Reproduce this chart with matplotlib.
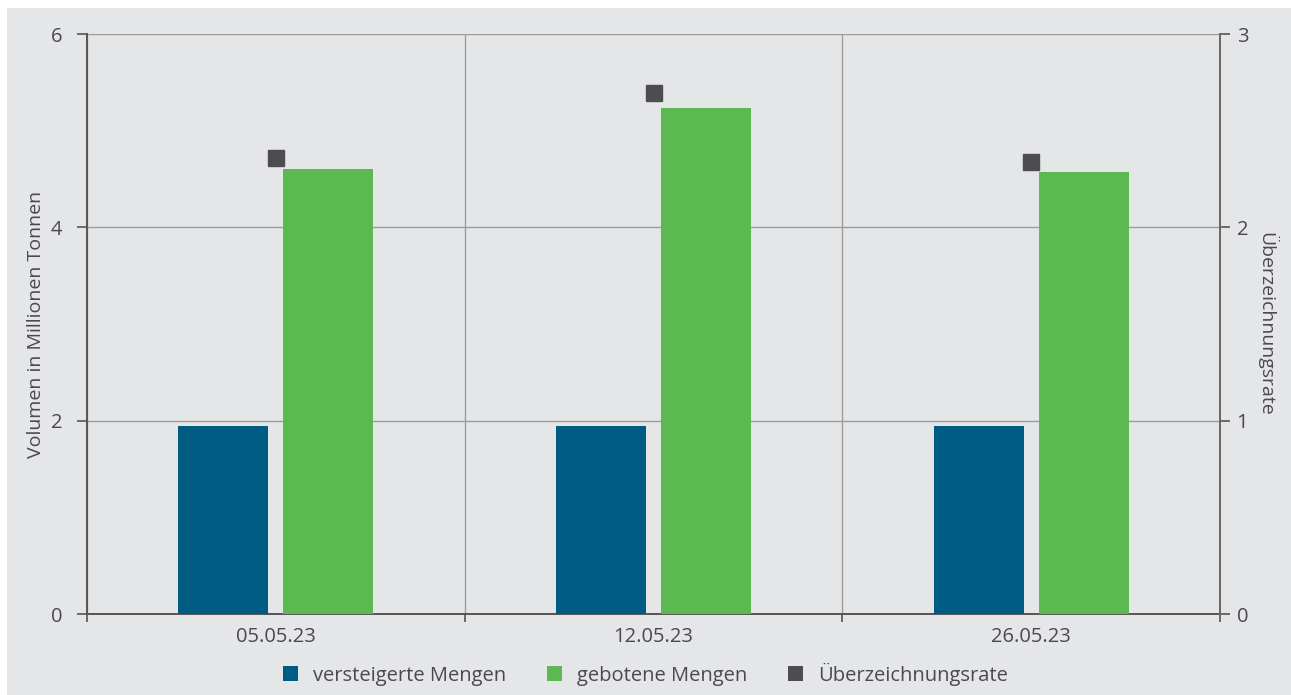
import matplotlib
matplotlib.use("Agg")
import matplotlib.pyplot as plt
from matplotlib.patches import Rectangle
from matplotlib.patches import Patch
import numpy as np

categories = ["05.05.23", "12.05.23", "26.05.23"]
versteigerte = [1.95, 1.95, 1.95]
gebotene = [4.60, 5.23, 4.57]
rate = [2.36, 2.695, 2.34]

left_ticks = [0, 2, 4, 6]
right_ticks = [0, 1, 2, 3]

BG = "#e5e6e8"
BLUE = "#005b82"
GREEN = "#5ab94f"
DARK = "#4d4d4f"
TXT = "#4a4a4c"

plt.rcParams['font.family'] = ['Open Sans', 'DejaVu Sans']

fig = plt.figure(figsize=(12.91, 6.95), dpi=100)
fig.patch.set_facecolor("white")
fig.patches.append(Rectangle((7/1291, 0), 1 - 7/1291, 1 - 8/695, transform=fig.transFigure,
                             facecolor=BG, edgecolor="none", zorder=-10))

ax = fig.add_axes([87/1291, 81/695, (1220-87)/1291, (614-34)/695])
ax.set_facecolor(BG)
ax.patch.set_alpha(0)

x = np.arange(len(categories))
w = 0.238
off = 0.139
ax.bar(x - off, versteigerte, width=w, color=BLUE, zorder=3)
ax.bar(x + off, gebotene, width=w, color=GREEN, zorder=3)

ax.set_xlim(-0.5, 2.5)
ax.set_ylim(0, 6)
ax.set_yticks(left_ticks)
ax.set_yticklabels([str(t) for t in left_ticks])
ax.set_xticks([-0.5, 0.5, 1.5, 2.5])
ax.set_xticklabels([])
ax.set_xticks(x, minor=True)
ax.set_xticklabels(categories, minor=True)
ax.tick_params(axis='x', which='minor', length=0, pad=9, labelsize=14.5, labelcolor=TXT)
ax.tick_params(axis='x', which='major', length=6, color="#555555", width=1.2)
ax.tick_params(axis='y', length=7, color="#555555", width=1.2, labelsize=14.5, labelcolor=TXT, pad=11)
ax.grid(True, which='major', color="#9c9c9c", linewidth=1.0, zorder=0)
for s in ["top", "right"]:
    ax.spines[s].set_visible(False)
for s in ["left", "bottom"]:
    ax.spines[s].set_color("#555555")
    ax.spines[s].set_linewidth(1.4)
ax.set_ylabel("Volumen in Millionen Tonnen", fontsize=14, color=TXT, labelpad=4)

ax2 = ax.twinx()
ax2.set_ylim(0, 3)
ax2.set_yticks(right_ticks)
ax2.set_yticklabels([str(t) for t in right_ticks])
ax2.tick_params(axis='y', length=7, color="#555555", width=1.2, labelsize=14.5, labelcolor=TXT, pad=5)
for s in ["top", "left", "bottom"]:
    ax2.spines[s].set_visible(False)
ax2.spines["right"].set_color("#666666")
ax2.spines["right"].set_linewidth(1.4)
ax2.plot(x, rate, linestyle="none", marker="s", markersize=11.5, color=DARK, zorder=5)
ax2.set_ylabel("Überzeichnungsrate", fontsize=14, color=TXT, rotation=-90, labelpad=21)

handles = [Patch(facecolor=BLUE, edgecolor="none"),
           Patch(facecolor=GREEN, edgecolor="none"),
           Patch(facecolor=DARK, edgecolor="none")]
labels = ["versteigerte Mengen", "gebotene Mengen", "Überzeichnungsrate"]
fig.legend(handles, labels, loc="center", bbox_to_anchor=(0.5, 21/695), ncol=3, frameon=False,
           fontsize=14.5, labelcolor=TXT, handlelength=0.75, handleheight=0.75, columnspacing=2.0,
           handletextpad=0.75)

fig.savefig("out.png", dpi=100, facecolor=fig.get_facecolor())
